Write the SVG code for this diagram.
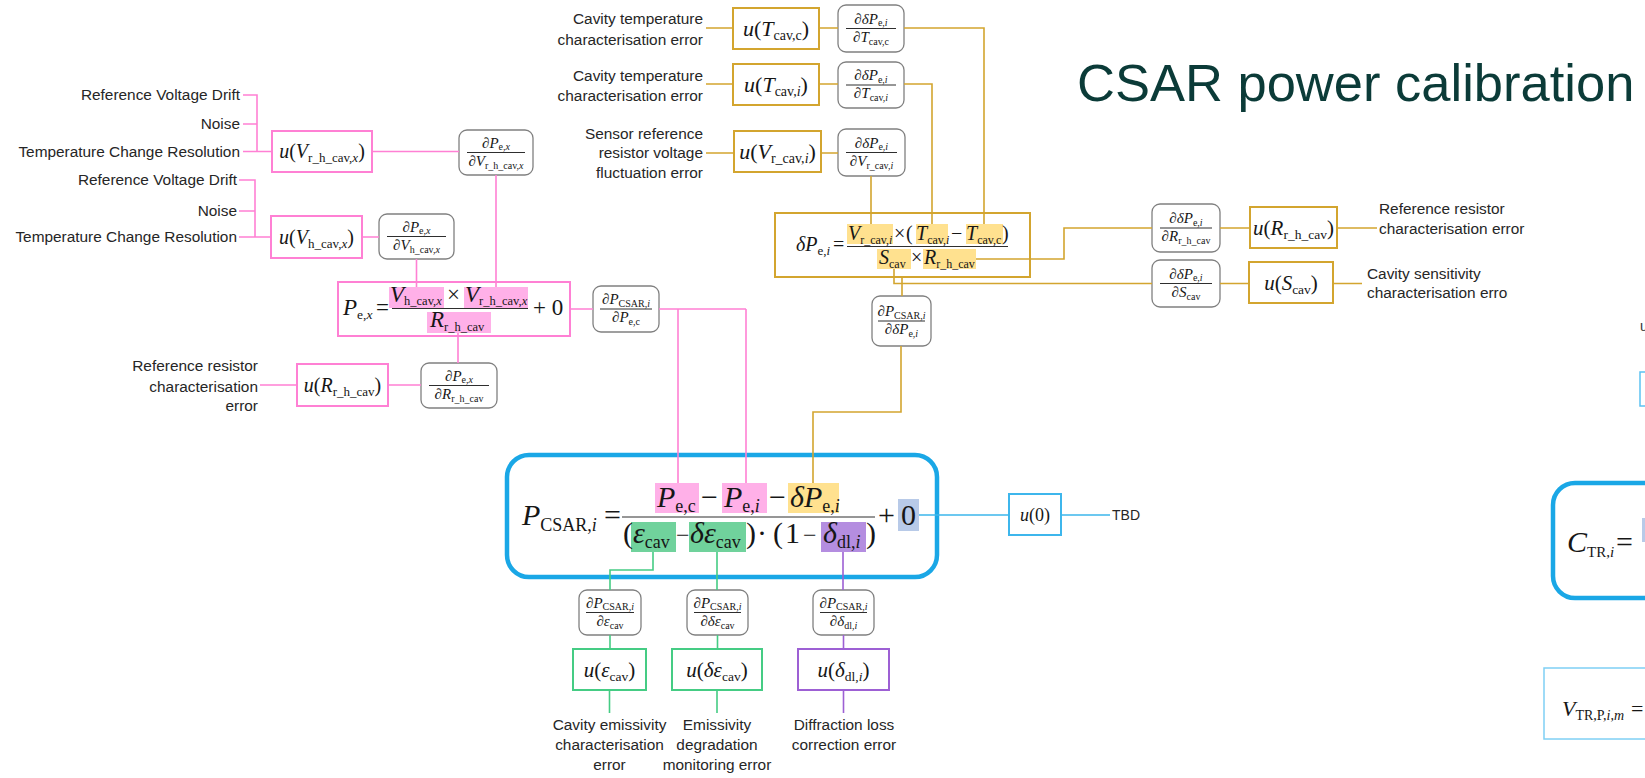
<svg xmlns="http://www.w3.org/2000/svg" width="1645" height="778" viewBox="0 0 1645 778">
<defs>
<style>
.lbl{font-family:"Liberation Sans",Arial,sans-serif;font-size:15.4px;fill:#262626}
.end{text-anchor:end}
.mid{text-anchor:middle}
.m{font-family:"Liberation Serif","Times New Roman",serif;fill:#161616}
.i{font-style:italic}
.fr{font-size:15px}
.sb{font-size:10px}
.bar{stroke:#161616;stroke-width:0.9}
.rb{fill:#fff;stroke:#808080;stroke-width:1.3}
.pk{fill:none;stroke:#ff80d4;stroke-width:1.6}
.pkb{fill:#fff;stroke:#ff80d4;stroke-width:2}
.gd{fill:none;stroke:#d3a52f;stroke-width:1.6}
.gdb{fill:#fff;stroke:#d3a52f;stroke-width:2}
.gn{fill:none;stroke:#45cc84;stroke-width:1.6}
.gnb{fill:#fff;stroke:#45cc84;stroke-width:2}
.pu{fill:none;stroke:#9d60d4;stroke-width:1.6}
.pub{fill:#fff;stroke:#9d60d4;stroke-width:2}
.bl{fill:none;stroke:#3db6ec;stroke-width:1.6}
.blb{fill:#fff;stroke:#3db6ec;stroke-width:2}
.bigb{fill:#fff;stroke:#1aa7e6;stroke-width:4.5}
.hp{fill:#ffb0e8}
.hy{fill:#ffe18f}
.hg{fill:#70d29c}
.hv{fill:#b48de0}
.hb{fill:#b8cae8}
</style>
<clipPath id="clipSens"><rect x="1300" y="255" width="208" height="60"/></clipPath>
</defs>
<rect width="1645" height="778" fill="#fff"/>

<text x="1077" y="101" font-family="'Liberation Sans',Arial,sans-serif" font-size="52.5" fill="#0b3b38">CSAR power calibration</text>

<!-- ===== heater-voltage branch (pink) ===== -->
<g id="src-vrh">
<text class="lbl end" x="240" y="100">Reference Voltage Drift</text>
<text class="lbl end" x="240" y="129">Noise</text>
<text class="lbl end" x="240" y="157">Temperature Change Resolution</text>
</g>
<g id="u-vrh">
<rect class="pkb" x="272" y="131" width="100" height="41"/>
<text class="m mid" font-size="20" x="322" y="158"><tspan class="i">u</tspan>(<tspan class="i">V</tspan><tspan font-size="13" dy="4">r_h_cav,</tspan><tspan font-size="13" class="i">x</tspan><tspan dy="-4">)</tspan></text>
</g>
<g id="d-vrh">
<rect class="rb" x="459" y="130" width="74" height="45" rx="8"/>
<text class="m mid fr" x="496" y="147.5">∂<tspan class="i">P</tspan><tspan class="sb" dy="2.5">e,</tspan><tspan class="sb i">x</tspan></text>
<line class="bar" x1="467" y1="152.5" x2="525" y2="152.5"/>
<text class="m mid fr" x="496" y="165.5">∂<tspan class="i">V</tspan><tspan class="sb" dy="3">r_h_cav,</tspan><tspan class="sb i">x</tspan></text>
</g>

<g id="src-vh">
<text class="lbl end" x="237" y="185">Reference Voltage Drift</text>
<text class="lbl end" x="237" y="216">Noise</text>
<text class="lbl end" x="237" y="242">Temperature Change Resolution</text>
</g>
<g id="u-vh">
<rect class="pkb" x="271" y="216" width="91" height="42"/>
<text class="m mid" font-size="20" x="316.5" y="244"><tspan class="i">u</tspan>(<tspan class="i">V</tspan><tspan font-size="13" dy="4">h_cav,</tspan><tspan font-size="13" class="i">x</tspan><tspan dy="-4">)</tspan></text>
</g>
<g id="d-vh">
<rect class="rb" x="379" y="214" width="75" height="45" rx="8"/>
<text class="m mid fr" x="416.5" y="231.5">∂<tspan class="i">P</tspan><tspan class="sb" dy="2.5">e,</tspan><tspan class="sb i">x</tspan></text>
<line class="bar" x1="387" y1="236.5" x2="446" y2="236.5"/>
<text class="m mid fr" x="416.5" y="249.5">∂<tspan class="i">V</tspan><tspan class="sb" dy="3">h_cav,</tspan><tspan class="sb i">x</tspan></text>
</g>

<g id="eq-pex">
<rect class="pkb" x="338" y="282" width="232" height="54"/>
<rect class="hp" x="389" y="287" width="55" height="21"/>
<rect class="hp" x="464" y="287" width="64" height="21"/>
<rect class="hp" x="427" y="312" width="64" height="21"/>
<text class="m" font-size="23" x="343" y="315"><tspan class="i">P</tspan><tspan font-size="13.5" dy="4">e,</tspan><tspan font-size="13.5" class="i">x</tspan></text>
<text class="m" font-size="23" x="376" y="315">=</text>
<text class="m" font-size="23" x="390" y="302"><tspan class="i">V</tspan><tspan font-size="12.5" dy="3">h_cav,</tspan><tspan font-size="12.5" class="i">x</tspan></text>
<text class="m" font-size="23" x="447" y="302">×</text>
<text class="m" font-size="23" x="465" y="302"><tspan class="i">V</tspan><tspan font-size="12.5" dy="3">r_h_cav,</tspan><tspan font-size="12.5" class="i">x</tspan></text>
<line class="bar" x1="392" y1="308.5" x2="528" y2="308.5" stroke-width="1.3"/>
<text class="m" font-size="23" x="430" y="327"><tspan class="i">R</tspan><tspan font-size="12.5" dy="3.5">r_h_cav</tspan></text>
<text class="m" font-size="23" x="533" y="315">+ 0</text>
</g>

<g id="d-pec">
<rect class="rb" x="593" y="286" width="66" height="46" rx="8"/>
<text class="m mid fr" x="626" y="304">∂<tspan class="i">P</tspan><tspan class="sb" dy="2.5">CSAR,</tspan><tspan class="sb i">i</tspan></text>
<line class="bar" x1="600" y1="309" x2="652" y2="309"/>
<text class="m mid fr" x="626" y="322">∂<tspan class="i">P</tspan><tspan class="sb" dy="3">e,c</tspan></text>
</g>

<g id="src-rrh-left">
<text class="lbl end" x="258" y="371">Reference resistor</text>
<text class="lbl end" x="258" y="392">characterisation</text>
<text class="lbl end" x="258" y="411">error</text>
</g>
<g id="u-rrh-left">
<rect class="pkb" x="297" y="364" width="91" height="42"/>
<text class="m mid" font-size="20" x="342.5" y="391.5"><tspan class="i">u</tspan>(<tspan class="i">R</tspan><tspan font-size="13" dy="4">r_h_cav</tspan><tspan dy="-4">)</tspan></text>
</g>
<g id="d-rrh-left">
<rect class="rb" x="421" y="363" width="76" height="45" rx="8"/>
<text class="m mid fr" x="459" y="380.5">∂<tspan class="i">P</tspan><tspan class="sb" dy="2.5">e,</tspan><tspan class="sb i">x</tspan></text>
<line class="bar" x1="429" y1="385.5" x2="489" y2="385.5"/>
<text class="m mid fr" x="459" y="398.5">∂<tspan class="i">R</tspan><tspan class="sb" dy="3">r_h_cav</tspan></text>
</g>

<!-- ===== cavity correction branch (gold) ===== -->
<g id="src-tcc">
<text class="lbl end" x="703" y="23.5">Cavity temperature</text>
<text class="lbl end" x="703" y="44.5">characterisation error</text>
</g>
<g id="u-tcc">
<rect class="gdb" x="733" y="8" width="86" height="41"/>
<text class="m mid" font-size="22" x="776" y="35.5"><tspan class="i">u</tspan>(<tspan class="i">T</tspan><tspan font-size="14" dy="4">cav,c</tspan><tspan dy="-4">)</tspan></text>
</g>
<g id="d-tcc">
<rect class="rb" x="838" y="5" width="66" height="47" rx="8"/>
<text class="m mid fr" x="871" y="23.5">∂<tspan class="i">δP</tspan><tspan class="sb" dy="2.5">e,</tspan><tspan class="sb i">i</tspan></text>
<line class="bar" x1="846" y1="28.5" x2="896" y2="28.5"/>
<text class="m mid fr" x="871" y="41.5">∂<tspan class="i">T</tspan><tspan class="sb" dy="3">cav,c</tspan></text>
</g>

<g id="src-tci">
<text class="lbl end" x="703" y="80.5">Cavity temperature</text>
<text class="lbl end" x="703" y="101">characterisation error</text>
</g>
<g id="u-tci">
<rect class="gdb" x="733" y="64" width="86" height="41"/>
<text class="m mid" font-size="22" x="776" y="91.5"><tspan class="i">u</tspan>(<tspan class="i">T</tspan><tspan font-size="14" dy="4">cav,</tspan><tspan font-size="14" class="i">i</tspan><tspan dy="-4">)</tspan></text>
</g>
<g id="d-tci">
<rect class="rb" x="838" y="62" width="66" height="46" rx="8"/>
<text class="m mid fr" x="871" y="80">∂<tspan class="i">δP</tspan><tspan class="sb" dy="2.5">e,</tspan><tspan class="sb i">i</tspan></text>
<line class="bar" x1="846" y1="85" x2="896" y2="85"/>
<text class="m mid fr" x="871" y="98">∂<tspan class="i">T</tspan><tspan class="sb" dy="3">cav,</tspan><tspan class="sb i">i</tspan></text>
</g>

<g id="src-vrc">
<text class="lbl end" x="703" y="138.5">Sensor reference</text>
<text class="lbl end" x="703" y="158">resistor voltage</text>
<text class="lbl end" x="703" y="178">fluctuation error</text>
</g>
<g id="u-vrc">
<rect class="gdb" x="734" y="131" width="87" height="41"/>
<text class="m mid" font-size="22" x="777.5" y="158.5"><tspan class="i">u</tspan>(<tspan class="i">V</tspan><tspan font-size="14" dy="4">r_cav,</tspan><tspan font-size="14" class="i">i</tspan><tspan dy="-4">)</tspan></text>
</g>
<g id="d-vrc">
<rect class="rb" x="838" y="129" width="67" height="47" rx="8"/>
<text class="m mid fr" x="871.5" y="147.5">∂<tspan class="i">δP</tspan><tspan class="sb" dy="2.5">e,</tspan><tspan class="sb i">i</tspan></text>
<line class="bar" x1="846" y1="152.5" x2="897" y2="152.5"/>
<text class="m mid fr" x="871.5" y="165.5">∂<tspan class="i">V</tspan><tspan class="sb" dy="3">r_cav,</tspan><tspan class="sb i">i</tspan></text>
</g>

<g id="eq-dpe">
<rect class="gdb" x="775" y="213" width="255" height="64"/>
<rect class="hy" x="847" y="224" width="46" height="20"/>
<rect class="hy" x="916" y="224" width="32" height="20"/>
<rect class="hy" x="966" y="224" width="37" height="20"/>
<rect class="hy" x="877" y="249" width="34" height="20"/>
<rect class="hy" x="923" y="249" width="53" height="20"/>
<text class="m" font-size="20" x="796" y="251"><tspan class="i">δP</tspan><tspan font-size="13" dy="3.5">e,</tspan><tspan font-size="13" class="i">i</tspan></text>
<text class="m" font-size="20" x="833" y="251">=</text>
<text class="m" font-size="20" x="848" y="240"><tspan class="i">V</tspan><tspan font-size="12" dy="3.5">r_cav,</tspan><tspan font-size="12" class="i">i</tspan></text>
<text class="m" font-size="20" x="894" y="240">×</text>
<text class="m" font-size="20" x="906" y="240">(</text>
<text class="m" font-size="20" x="916" y="240"><tspan class="i">T</tspan><tspan font-size="12" dy="3.5">cav,</tspan><tspan font-size="12" class="i">i</tspan></text>
<text class="m" font-size="20" x="951" y="240">−</text>
<text class="m" font-size="20" x="966" y="240"><tspan class="i">T</tspan><tspan font-size="12" dy="3.5">cav,c</tspan></text>
<text class="m" font-size="20" x="1002" y="240">)</text>
<line class="bar" x1="847" y1="246.5" x2="1008" y2="246.5" stroke-width="1.2"/>
<text class="m" font-size="20" x="879" y="264"><tspan class="i">S</tspan><tspan font-size="12" dy="3.5">cav</tspan></text>
<text class="m" font-size="20" x="911" y="264">×</text>
<text class="m" font-size="20" x="924" y="264"><tspan class="i">R</tspan><tspan font-size="12" dy="3.5">r_h_cav</tspan></text>
</g>

<g id="d-rrh-right">
<rect class="rb" x="1152" y="204" width="68" height="48" rx="8"/>
<text class="m mid fr" x="1186" y="223">∂<tspan class="i">δP</tspan><tspan class="sb" dy="2.5">e,</tspan><tspan class="sb i">i</tspan></text>
<line class="bar" x1="1160" y1="228" x2="1212" y2="228"/>
<text class="m mid fr" x="1186" y="241">∂<tspan class="i">R</tspan><tspan class="sb" dy="3">r_h_cav</tspan></text>
</g>
<g id="u-rrh-right">
<rect class="gdb" x="1250" y="207" width="87" height="41"/>
<text class="m mid" font-size="21" x="1293.5" y="234.5"><tspan class="i">u</tspan>(<tspan class="i">R</tspan><tspan font-size="13.5" dy="4">r_h_cav</tspan><tspan dy="-4">)</tspan></text>
</g>
<g id="src-rrh-right">
<text class="lbl" x="1379" y="213.5">Reference resistor</text>
<text class="lbl" x="1379" y="234">characterisation error</text>
</g>

<g id="d-scav">
<rect class="rb" x="1152" y="260" width="68" height="47" rx="8"/>
<text class="m mid fr" x="1186" y="278.5">∂<tspan class="i">δP</tspan><tspan class="sb" dy="2.5">e,</tspan><tspan class="sb i">i</tspan></text>
<line class="bar" x1="1160" y1="283.5" x2="1212" y2="283.5"/>
<text class="m mid fr" x="1186" y="296.5">∂<tspan class="i">S</tspan><tspan class="sb" dy="3">cav</tspan></text>
</g>
<g id="u-scav">
<rect class="gdb" x="1249" y="262" width="84" height="41"/>
<text class="m mid" font-size="21" x="1291" y="289.5"><tspan class="i">u</tspan>(<tspan class="i">S</tspan><tspan font-size="13.5" dy="4">cav</tspan><tspan dy="-4">)</tspan></text>
</g>
<g id="src-scav" clip-path="url(#clipSens)">
<text class="lbl" x="1367" y="278.5">Cavity sensitivity</text>
<text class="lbl" x="1367" y="297.5">characterisation error</text>
</g>

<g id="d-dpe">
<rect class="rb" x="872" y="296" width="59" height="50" rx="8"/>
<text class="m mid fr" x="901.5" y="316">∂<tspan class="i">P</tspan><tspan class="sb" dy="2.5">CSAR,</tspan><tspan class="sb i">i</tspan></text>
<line class="bar" x1="878" y1="321" x2="925" y2="321"/>
<text class="m mid fr" x="901.5" y="334">∂<tspan class="i">δP</tspan><tspan class="sb" dy="3">e,</tspan><tspan class="sb i">i</tspan></text>
</g>

<!-- ===== main equation ===== -->
<g id="eq-csar">
<rect class="bigb" x="507" y="455" width="430" height="122" rx="22"/>
<rect class="hp" x="655" y="483" width="44" height="30"/>
<rect class="hp" x="722" y="483" width="45" height="30"/>
<rect class="hy" x="788" y="483" width="51" height="30"/>
<rect class="hg" x="631" y="522" width="45" height="30"/>
<rect class="hg" x="689" y="522" width="57" height="30"/>
<rect class="hv" x="821" y="522" width="45" height="30"/>
<rect class="hb" x="898" y="499" width="21" height="32"/>
<text class="m" font-size="30" x="522" y="525"><tspan class="i">P</tspan><tspan font-size="18" dy="6">CSAR,</tspan><tspan font-size="18" class="i">i</tspan></text>
<text class="m" font-size="30" x="604" y="525">=</text>
<text class="m" font-size="30" x="657" y="507"><tspan class="i">P</tspan><tspan font-size="18" dy="5">e,c</tspan></text>
<text class="m" font-size="30" x="701" y="507">−</text>
<text class="m" font-size="30" x="724" y="507"><tspan class="i">P</tspan><tspan font-size="18" dy="5">e,</tspan><tspan font-size="18" class="i">i</tspan></text>
<text class="m" font-size="30" x="769" y="507">−</text>
<text class="m" font-size="30" x="790" y="507"><tspan class="i">δP</tspan><tspan font-size="18" dy="5">e,</tspan><tspan font-size="18" class="i">i</tspan></text>
<line class="bar" x1="622" y1="517" x2="875" y2="517" stroke-width="1.5"/>
<text class="m" font-size="30" x="623" y="543">(</text>
<text class="m" font-size="30" x="633" y="543"><tspan class="i">ε</tspan><tspan font-size="18" dy="5">cav</tspan></text>
<text class="m" font-size="24" x="676" y="543">−</text>
<text class="m" font-size="30" x="690" y="543"><tspan class="i">δε</tspan><tspan font-size="18" dy="5">cav</tspan></text>
<text class="m" font-size="30" x="746" y="543">)</text>
<text class="m" font-size="30" x="757" y="543">·</text>
<text class="m" font-size="30" x="773" y="543">(</text>
<text class="m" font-size="30" x="785" y="543">1</text>
<text class="m" font-size="24" x="803" y="543">−</text>
<text class="m" font-size="30" x="823" y="543"><tspan class="i">δ</tspan><tspan font-size="18" dy="5">dl,</tspan><tspan font-size="18" class="i">i</tspan></text>
<text class="m" font-size="30" x="866" y="543">)</text>
<text class="m" font-size="30" x="878" y="525">+</text>
<text class="m" font-size="30" x="901" y="525">0</text>
</g>

<g id="u-zero">
<rect class="blb" x="1009" y="494" width="52" height="41"/>
<text class="m mid" font-size="18" x="1035" y="521"><tspan class="i">u</tspan>(0)</text>
</g>
<g id="src-zero">
<text x="1112" y="520" font-family="'Liberation Sans',Arial,sans-serif" font-size="14" fill="#262626">TBD</text>
</g>

<!-- ===== lower branches ===== -->
<g id="d-ecav">
<rect class="rb" x="579" y="590" width="62" height="45" rx="8"/>
<text class="m mid fr" x="610" y="607.5">∂<tspan class="i">P</tspan><tspan class="sb" dy="2.5">CSAR,</tspan><tspan class="sb i">i</tspan></text>
<line class="bar" x1="586" y1="612.5" x2="634" y2="612.5"/>
<text class="m mid fr" x="610" y="625.5">∂<tspan class="i">ε</tspan><tspan class="sb" dy="3">cav</tspan></text>
</g>
<g id="u-ecav">
<rect class="gnb" x="573" y="649" width="73" height="41"/>
<text class="m mid" font-size="21" x="609.5" y="676.5"><tspan class="i">u</tspan>(<tspan class="i">ε</tspan><tspan font-size="13.5" dy="4">cav</tspan><tspan dy="-4">)</tspan></text>
</g>
<g id="src-ecav">
<text class="lbl mid" x="609.5" y="730">Cavity emissivity</text>
<text class="lbl mid" x="609.5" y="750">characterisation</text>
<text class="lbl mid" x="609.5" y="770">error</text>
</g>

<g id="d-decav">
<rect class="rb" x="687" y="590" width="61" height="45" rx="8"/>
<text class="m mid fr" x="717.5" y="607.5">∂<tspan class="i">P</tspan><tspan class="sb" dy="2.5">CSAR,</tspan><tspan class="sb i">i</tspan></text>
<line class="bar" x1="694" y1="612.5" x2="741" y2="612.5"/>
<text class="m mid fr" x="717.5" y="625.5">∂<tspan class="i">δε</tspan><tspan class="sb" dy="3">cav</tspan></text>
</g>
<g id="u-decav">
<rect class="gnb" x="672" y="649" width="90" height="41"/>
<text class="m mid" font-size="21" x="717" y="676.5"><tspan class="i">u</tspan>(<tspan class="i">δε</tspan><tspan font-size="13.5" dy="4">cav</tspan><tspan dy="-4">)</tspan></text>
</g>
<g id="src-decav">
<text class="lbl mid" x="717" y="730">Emissivity</text>
<text class="lbl mid" x="717" y="750">degradation</text>
<text class="lbl mid" x="717" y="770">monitoring error</text>
</g>

<g id="d-ddl">
<rect class="rb" x="813" y="590" width="61" height="45" rx="8"/>
<text class="m mid fr" x="843.5" y="607.5">∂<tspan class="i">P</tspan><tspan class="sb" dy="2.5">CSAR,</tspan><tspan class="sb i">i</tspan></text>
<line class="bar" x1="820" y1="612.5" x2="867" y2="612.5"/>
<text class="m mid fr" x="843.5" y="625.5">∂<tspan class="i">δ</tspan><tspan class="sb" dy="3">dl,</tspan><tspan class="sb i">i</tspan></text>
</g>
<g id="u-ddl">
<rect class="pub" x="798" y="649" width="91" height="41"/>
<text class="m mid" font-size="21" x="843.5" y="676.5"><tspan class="i">u</tspan>(<tspan class="i">δ</tspan><tspan font-size="13.5" dy="4">dl,</tspan><tspan font-size="13.5" class="i">i</tspan><tspan dy="-4">)</tspan></text>
</g>
<g id="src-ddl">
<text class="lbl mid" x="844" y="730">Diffraction loss</text>
<text class="lbl mid" x="844" y="750">correction error</text>
</g>

<!-- ===== adjacent panel, cut by the right edge ===== -->
<g id="next-panel">
<text x="1640" y="331" font-family="'Liberation Sans',Arial,sans-serif" font-size="14" fill="#333">u</text>
<rect x="1640" y="372" width="40" height="34" fill="#fff" stroke="#5cc2f2" stroke-width="1.5"/>
<rect class="bigb" x="1553" y="483" width="150" height="115" rx="22"/>
<rect class="hb" x="1642" y="518" width="10" height="24"/>
<text class="m" font-size="30" x="1567" y="552"><tspan class="i">C</tspan><tspan font-size="15" dy="5">TR,</tspan><tspan font-size="15" class="i">i</tspan></text>
<text class="m" font-size="30" x="1616" y="552">=</text>
<rect x="1544" y="668" width="120" height="71" fill="#fff" stroke="#7fd0f5" stroke-width="1.5"/>
<text class="m" font-size="22" x="1562" y="716"><tspan class="i">V</tspan><tspan font-size="14" dy="4">TR,P,</tspan><tspan font-size="14" class="i">i</tspan><tspan font-size="14">,</tspan><tspan font-size="14" class="i">m</tspan></text>
<text class="m" font-size="22" x="1631" y="716">=</text>
</g>

<!-- ===== connectors ===== -->
<g id="connectors">
<path class="pk" d="M243 95H257V151.5M243 124H257M243 151.5H272M372 151.5H459M496 175V287M239 180H255V237M239 211H255M239 237H271M362 237H379M416.5 259V287M570 309H593M659 309H746M678 309V483M746 309V483M458 333V363M260 385H297M388 385H421"/>
<path class="gd" d="M706 28H733M819 28H838M904 28H984V224M706 84H733M819 84H838M904 84H932V224M706 153H734M821 153H838M871 176V224M976 259H1064V228H1152M1220 228H1250M1337 228H1377M894 269V283.5H1152M1220 283.5H1249M1333 283.5H1362M902 277V296M901 346V412H813V483"/>
<path class="gn" d="M653 552V570H610V590M717 552V590M610 635V649M717.5 635V649M609.5 690V713M717 690V713"/>
<path class="pu" d="M843 552V590M843.5 635V649M843.5 690V713"/>
<path class="bl" d="M919 515H1009M1061 515H1110"/>
</g>
</svg>
